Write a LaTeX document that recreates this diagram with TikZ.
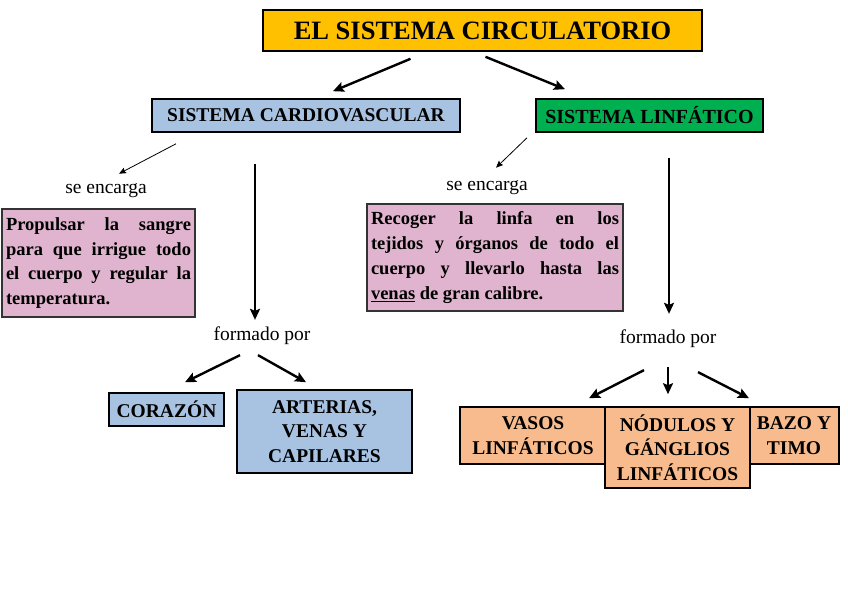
\documentclass[tikz,border=0pt]{standalone}
\usepackage{fontspec}
\setmainfont{Liberation Serif}
\usepackage{xcolor}
\usepackage{tikz}
\usetikzlibrary{arrows.meta}
\definecolor{oro}{HTML}{FFC000}
\definecolor{azul}{HTML}{A8C2E2}
\definecolor{verde}{HTML}{00B050}
\definecolor{rosa}{HTML}{E0B4CE}
\definecolor{naranja}{HTML}{F8BB8D}
\tikzstyle{caja} = [rectangle, 
draw=black, 
line width=1.6pt, 
inner sep=2pt, 
text centered, 
font=\bfseries\fontsize{19.5}{24.5}\selectfont]
\tikzstyle{texto} = [rectangle, 
draw=black!80, 
line width=1.2pt, 
fill=rosa, 
inner xsep=4pt, 
align=justify, 
font=\bfseries\fontsize{18.5}{24.8}\selectfont]
\tikzstyle{etiqueta} = [inner sep=2pt, font=\fontsize{19.5}{21}\selectfont]
\tikzstyle{flecha} = [line width=2.4pt,-{Stealth[length=11pt,width=10pt,inset=2pt]}]
\tikzstyle{flechita} = [line width=0.8pt,-{Stealth[length=7pt,width=6pt,inset=1pt]}]

\begin{document}
\begin{tikzpicture}[x=1pt, y=-1pt]
			\useasboundingbox (0,0) rectangle (848,599);
			\node (titulo)[caja, fill=oro, minimum width=439pt, minimum height=41pt, font=\bfseries\fontsize{26.5}{30}\selectfont] at (482.5,30.5) {EL SISTEMA CIRCULATORIO};
			
			\node (cardio)[caja, fill=azul, minimum width=308pt, minimum height=33pt, font=\bfseries\fontsize{19.5}{22}\selectfont] at (306,115.5) {SISTEMA CARDIOVASCULAR};
			\node (linfa)[caja, fill=verde, minimum width=227pt, minimum height=33pt, font=\bfseries\fontsize{20}{22}\selectfont] at (649.5,115.5) {SISTEMA LINFÁTICO};
			\draw [flecha] ([xshift=-72pt,yshift=-7pt]titulo.south) -- ([xshift=27pt,yshift=7pt]cardio.north);
			\draw [flecha] ([xshift=3pt,yshift=-5pt]titulo.south) -- ([xshift=-84.5pt,yshift=9pt]linfa.north);
			
			% lado cardiovascular
			\node (encL)[etiqueta] at (106,191) {se encarga};
			\draw [flechita] ([xshift=-130pt,yshift=-11pt]cardio.south) -- ([xshift=13pt,yshift=8pt]encL.north);
			\node (funcL)[texto, text width=185pt, minimum height=108pt] at (98.5,263) {Propulsar la sangre\linebreak para que irrigue todo\linebreak el cuerpo y regular la\linebreak temperatura.};
			
			\node (formL)[etiqueta] at (262,336) {formado por};
			\draw [flecha] ([xshift=-51pt,yshift=-31pt]cardio.south) -- ([xshift=-7pt,yshift=5pt]formL.north);
			
			\node (corazon)[caja, fill=azul, minimum width=115pt, minimum height=33pt] at (166.5,409.5) {CORAZÓN};
			\node (arterias)[caja, fill=azul, minimum width=175pt, minimum height=83pt, align=center] at (324.5,431.5) {ARTERIAS,\\VENAS Y\\CAPILARES};
			\draw [flecha] ([xshift=-22pt,yshift=-8pt]formL.south) -- ([xshift=18.5pt,yshift=10pt]corazon.north);
			\draw [flecha] ([xshift=-4pt,yshift=-8pt]formL.south) -- ([xshift=-18.5pt,yshift=7pt]arterias.north);
			
			% lado linfatico
			\node (encR)[etiqueta] at (487,188) {se encarga};
			\draw [flechita] ([xshift=-122.5pt,yshift=-5pt]linfa.south) -- ([xshift=9pt,yshift=11pt]encR.north);
			\node (funcR)[texto, text width=248pt, minimum height=107pt] at (495,257.5) {Recoger la linfa en los\linebreak tejidos y órganos de todo el\linebreak cuerpo y llevarlo hasta las\linebreak \underline{venas} de gran calibre.};
			
			\node (formR)[etiqueta] at (668,339) {formado por};
			\draw [flecha] ([xshift=19.5pt,yshift=-25pt]linfa.south) -- ([xshift=1pt,yshift=14pt]formR.north);
			
			\node (vasos)[caja, fill=naranja, minimum width=146pt, minimum height=57pt, align=center] at (533,435.5) {VASOS\\LINFÁTICOS};
			\node (bazo)[caja, fill=naranja, minimum width=90pt, minimum height=57pt, align=center] at (794,435.5) {BAZO Y\\TIMO};
			\node (nodulos)[caja, fill=naranja, minimum width=145pt, minimum height=81pt, align=center] at (677.5,447.5) {NÓDULOS Y\\GÁNGLIOS\\LINFÁTICOS};
			\draw [flecha] ([xshift=-24pt,yshift=-20pt]formR.south) -- ([xshift=56pt,yshift=8pt]vasos.north);
			\draw [flecha] ([yshift=-17pt]formR.south) -- ([xshift=-9.5pt,yshift=12pt]nodulos.north);
			\draw [flecha] ([xshift=30pt,yshift=-22pt]formR.south) -- ([xshift=-45pt,yshift=8pt]bazo.north);
		\end{tikzpicture}
\end{document}
